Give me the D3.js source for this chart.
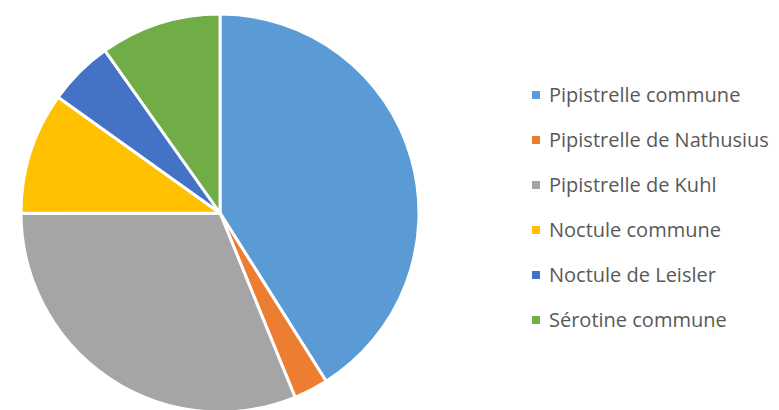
<!DOCTYPE html>
<html>
<head>
<meta charset="utf-8">
<script src="https://cdn.jsdelivr.net/npm/d3@7"></script>
<style>
  body { margin: 0; background: #fff; }
  svg { display: block; }
</style>
</head>
<body>
<div id="chart"></div>
<script>
// Species and their share (percent)
const species = ["Pipistrelle commune", "Pipistrelle de Nathusius", "Pipistrelle de Kuhl",
  "Noctule commune", "Noctule de Leisler", "Sérotine commune"];
const shares = [41.0, 2.8, 31.1, 9.9, 5.3, 9.8];
const colors = ["#5b9bd5", "#ed7d31", "#a5a5a5", "#ffc000", "#4472c4", "#70ad47"];

const width = 779, height = 410;
const cx = 220, cy = 213, radius = 199;

const data = species.map((name, i) => ({ name, value: shares[i] }));

const svg = d3.select("#chart")
  .append("svg")
  .attr("width", width)
  .attr("height", height);

const color = d3.scaleOrdinal().domain(species).range(colors);

const pie = d3.pie().sort(null).value(d => d.value);
const arc = d3.arc().innerRadius(0).outerRadius(radius);

const g = svg.append("g").attr("transform", `translate(${cx},${cy})`);

g.selectAll("path")
  .data(pie(data))
  .enter()
  .append("path")
  .attr("d", arc)
  .attr("fill", d => color(d.data.name))
  .attr("stroke", "#fff")
  .attr("stroke-width", 3)
  .attr("stroke-linejoin", "round");

// Legend
const legend = svg.selectAll(".legend")
  .data(species)
  .enter()
  .append("g")
  .attr("class", "legend")
  .attr("transform", (d, i) => `translate(532,${95 + i * 45})`);

legend.append("rect")
  .attr("x", 0)
  .attr("y", -4)
  .attr("width", 8)
  .attr("height", 8)
  .attr("fill", d => color(d));

legend.append("text")
  .attr("x", 17)
  .attr("y", 0)
  .attr("dy", "0.35em")
  .attr("font-family", "'Open Sans', sans-serif")
  .attr("font-size", 20)
  .attr("fill", "#595959")
  .text(d => d);
</script>
</body>
</html>
